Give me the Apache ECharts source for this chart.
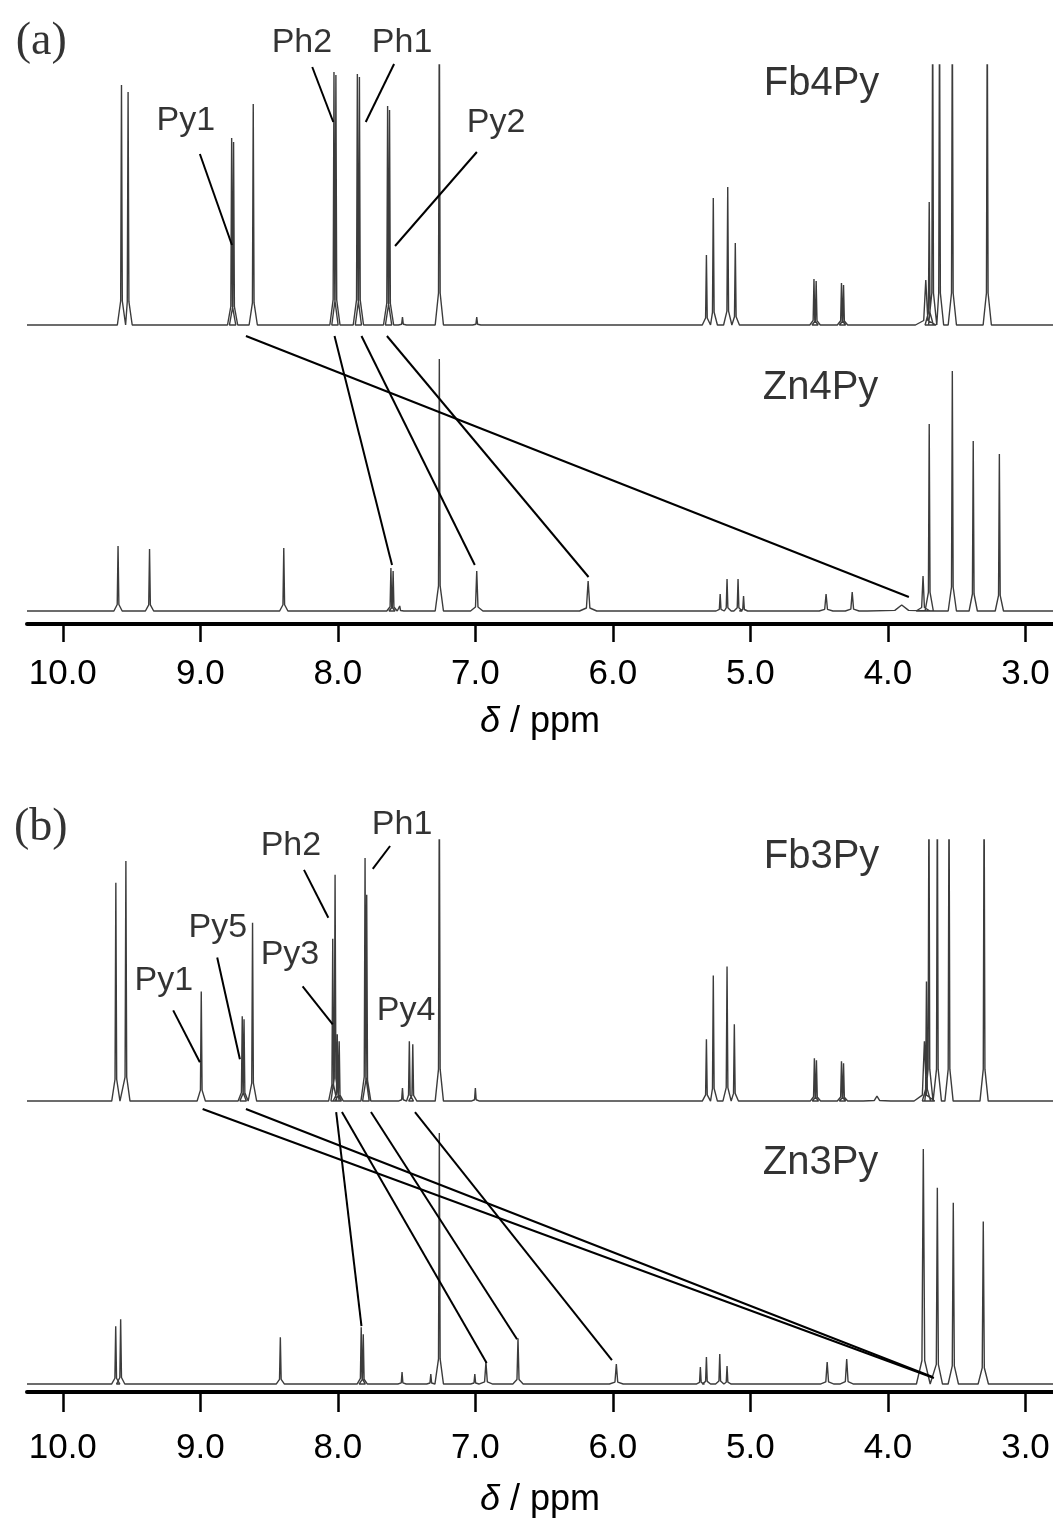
<!DOCTYPE html>
<html>
<head>
<meta charset="utf-8" />
<title>NMR spectra</title>
<script src="https://cdn.jsdelivr.net/npm/echarts@6/dist/echarts.min.js"></script>
<style>
  html, body { margin: 0; padding: 0; background: #fff; }
  #container { width: 1053px; height: 1519px; }
</style>
</head>
<body>
<div id="container"></div>
<script>
// x range (ppm), axis is reversed like an NMR plot
var X_MIN = 2.8, X_MAX = 10.26;
var tickValues = [10, 9, 8, 7, 6, 5, 4, 3];

// peaks: [ppm, height, linewidth(optional)]
var fb4Py = [[9.573,240],[9.525,233],[8.772,187],[8.758,183],[8.615,221],[8.028,253],[8.014,250],
  [7.858,251],[7.843,248],[7.638,219],[7.624,215],[7.53,8],[7.262,320],[6.99,8],[5.32,70],[5.27,127],
  [5.165,138],[5.11,82],[4.538,46],[4.522,44],[4.338,42],[4.323,40],[3.725,45,0.03],[3.70,123],
  [3.675,320],[3.625,320],[3.532,320],[3.278,320]];
var zn4Py = [[9.598,65],[9.369,62],[8.393,63],[7.614,43],[7.598,40],[7.55,5],[7.262,252],[6.99,40,0.018],
  [6.18,30,0.025],[5.22,17],[5.17,32],[5.09,32],[5.05,15],[4.45,17,0.02],[4.26,19,0.02],[3.9,6,0.1],
  [3.745,35,0.02],[3.70,187],[3.532,240],[3.38,170],[3.19,157]];
var fb3Py = [[9.614,219],[9.541,241],[8.993,110],[8.695,85],[8.682,82],[8.62,179],[8.037,163],[8.02,227],
  [8.004,67],[7.99,60],[7.802,244],[7.79,207],[7.53,13],[7.48,60],[7.455,57],[7.262,320],[7.0,13],
  [5.32,62],[5.27,126],[5.17,135],[5.117,77],[4.535,43],[4.52,41],[4.338,40],[4.323,38],[4.08,5,0.04],
  [3.735,60,0.03],[3.72,120],[3.702,320],[3.641,320],[3.556,320],[3.301,320]];
var zn3Py = [[9.615,58],[9.579,65],[8.418,47],[7.83,57],[7.815,50],[7.533,12],[7.324,10],[7.262,252],
  [7.004,10],[6.923,22,0.02],[6.69,46,0.015],[5.975,20,0.02],[5.364,17],[5.32,27],[5.223,30],[5.17,18],
  [4.442,22,0.02],[4.30,25,0.02],[3.743,236,0.02],[3.641,197,0.015],[3.525,182,0.015],[3.307,163,0.015]];

// vertical offset of the upper spectrum in each panel
var offsetA = 286, offsetB = 284;

// correlation lines between spectra: [ppm1, y1, ppm2, y2]
var corrA = [[8.668,275,3.848,14],[8.024,275,7.606,46],[7.828,275,7.004,46],[7.643,275,6.177,34]];
var corrB = [[8.983,276,3.666,6],[8.668,276,3.675,7],[8.012,273,7.828,58],[7.97,273,6.918,21],
  [7.759,273,6.697,45],[7.439,273,6.007,24]];

// label leader lines
var leadA = [[8.186,544,8.033,489],[7.591,547,7.797,489],[9.003,457,8.77,366],[6.989,459,7.584,365]];
var leadB = [[8.246,516,8.069,468],[8.877,428,8.712,326],[8.256,399,8.037,361],[9.197,375,9.003,323],
  [7.62,540,7.746,517]];

// labels: [text, ppm, y]
var peakLabelsA = [['Ph2',8.261,568],['Ph1',7.533,568],['Py1',9.105,490],['Py2',6.849,488]];
var peakLabelsB = [['Ph2',8.341,540],['Py5',8.872,458],['Py3',8.348,431],['Py1',9.265,405],
  ['Ph1',7.533,561],['Py4',7.504,375]];
var nameLabelsA = [['Fb4Py',4.483,527],['Zn4Py',4.49,223]];
var nameLabelsB = [['Fb3Py',4.483,529],['Zn3Py',4.49,222]];
var tagA = ['(a)',10.156,569];
var tagB = ['(b)',10.16,558];

var SANS = '"Liberation Sans", Arial, Helvetica, sans-serif';
var SERIF = '"Liberation Serif", "Times New Roman", serif';

function trace(peaks, offset) {
  var pts = [[X_MAX, offset]];
  peaks.slice().sort(function (a, b) { return b[0] - a[0]; }).forEach(function (p) {
    var w = p[2] || 0.012;
    pts.push([p[0] + w * 2.5, offset], [p[0] + w * 0.5, offset + p[1] * 0.1], [p[0], offset + p[1]],
             [p[0] - w * 0.5, offset + p[1] * 0.1], [p[0] - w * 2.5, offset]);
  });
  pts.push([X_MIN, offset]);
  return pts;
}

var series = [];

function addPanel(i, top, bottom, offset, corr, lead, peakLabels, nameLabels, tag) {
  [[top, offset], [bottom, 0]].forEach(function (s) {
    series.push({
      type: 'line', xAxisIndex: i, yAxisIndex: i, data: trace(s[0], s[1]),
      symbol: 'none', silent: true, clip: true,
      lineStyle: { color: '#3c3c3c', width: 1.4 }
    });
  });
  corr.concat(lead).forEach(function (c) {
    series.push({
      type: 'line', xAxisIndex: i, yAxisIndex: i, data: [[c[0], c[1]], [c[2], c[3]]],
      symbol: 'none', silent: true, clip: false,
      lineStyle: { color: '#000', width: 2 }
    });
  });
  var items = [];
  peakLabels.forEach(function (l) {
    items.push({ name: l[0], value: [l[1], l[2]], label: { fontSize: 34, color: '#000' } });
  });
  nameLabels.forEach(function (l) {
    items.push({ name: l[0], value: [l[1], l[2]], label: { fontSize: 40, color: '#000' } });
  });
  items.push({ name: tag[0], value: [tag[1], tag[2]], label: { fontSize: 46, fontFamily: SERIF, color: '#000' } });
  series.push({
    type: 'scatter', xAxisIndex: i, yAxisIndex: i, data: items,
    symbolSize: 1, silent: true, clip: false,
    itemStyle: { color: 'rgba(0,0,0,0)' },
    label: { show: true, position: 'inside', formatter: '{b}', color: '#000', fontFamily: SANS }
  });
}

addPanel(0, fb4Py, zn4Py, offsetA, corrA, leadA, peakLabelsA, nameLabelsA, tagA);
addPanel(1, fb3Py, zn3Py, offsetB, corrB, leadB, peakLabelsB, nameLabelsB, tagB);

function xAxis(i, tickLen, margin, nameGap) {
  return {
    type: 'value', gridIndex: i, min: X_MIN, max: X_MAX, inverse: true,
    splitLine: { show: false },
    axisLine: { onZero: false, lineStyle: { color: '#000', width: 4 } },
    axisTick: { customValues: tickValues, length: tickLen, lineStyle: { color: '#000', width: 2.5 } },
    axisLabel: {
      customValues: tickValues, margin: margin, fontSize: 35, color: '#000', fontFamily: SANS,
      formatter: function (v) { return v.toFixed(1); }
    },
    name: '{d|δ} / ppm', nameLocation: 'middle', nameGap: nameGap,
    nameTextStyle: {
      fontSize: 36, color: '#000', fontFamily: SANS,
      rich: { d: { fontSize: 36, fontStyle: 'italic', fontFamily: SANS, color: '#000' } }
    }
  };
}

var myChart = echarts.init(document.getElementById('container'));
var option = {
  animation: false,
  backgroundColor: '#fff',
  grid: [
    { left: 27, right: 0, top: 65, bottom: 895 },
    { left: 27, right: 0, top: 840, bottom: 125 }
  ],
  xAxis: [xAxis(0, 18, 33, 80), xAxis(1, 20, 39, 90)],
  yAxis: [
    { type: 'value', gridIndex: 0, min: -13, max: 546, show: false },
    { type: 'value', gridIndex: 1, min: -8, max: 546, show: false }
  ],
  series: series
};
myChart.setOption(option);
</script>
</body>
</html>
